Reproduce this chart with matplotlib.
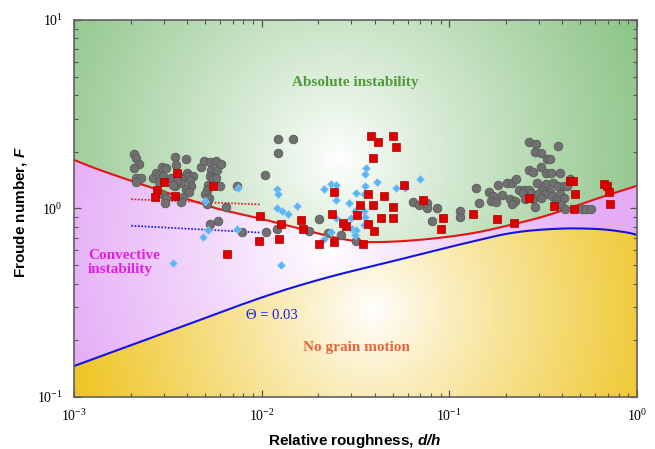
import numpy as np
import matplotlib
matplotlib.use("Agg")
from matplotlib import pyplot as plt

plt.rcParams['font.family'] = 'Liberation Serif'
plt.rcParams['mathtext.fontset'] = 'custom'
plt.rcParams['mathtext.rm'] = 'Liberation Serif'
plt.rcParams['mathtext.bfit'] = 'Liberation Sans:italic:bold'

# Axis limits
x_lim = (1e-3, 1.0)
y_lim = (0.1, 10.0)

# Measured data: gray circles
gray_dh = [0.00209, 0.00213, 0.00221, 0.00209, 0.00215, 0.00228, 0.00213, 0.00273, 0.00264, 0.00293,
           0.00311, 0.00284, 0.00299, 0.00282, 0.00345, 0.00348, 0.00393, 0.00328, 0.00358, 0.00378,
           0.0040, 0.0041, 0.0043, 0.0037, 0.00344, 0.00354, 0.00414, 0.00422, 0.00393, 0.0041,
           0.00381, 0.0037, 0.00296, 0.00309, 0.00305, 0.00337, 0.00477, 0.0049, 0.00528, 0.00539,
           0.00568, 0.00577, 0.00528, 0.0055, 0.00517, 0.0051, 0.00498, 0.00523, 0.0051, 0.00573,
           0.00533, 0.00584, 0.00605, 0.0060, 0.00647, 0.0074, 0.0104, 0.01225, 0.0147, 0.01225,
           0.00787, 0.01054, 0.0121, 0.0179, 0.0201, 0.0226, 0.0264, 0.0317, 0.0644, 0.0687,
           0.0758, 0.0759, 0.086, 0.081, 0.114, 0.114, 0.144, 0.138, 0.1625, 0.171,
           0.1675, 0.177, 0.191, 0.182, 0.202, 0.216, 0.227, 0.236, 0.250, 0.266,
           0.211, 0.223, 0.215, 0.247, 0.253, 0.274, 0.279, 0.287, 0.265, 0.289,
           0.380, 0.286, 0.307, 0.333, 0.345, 0.267, 0.279, 0.307, 0.327, 0.350,
           0.389, 0.442, 0.293, 0.327, 0.357, 0.380, 0.406, 0.426, 0.310, 0.343,
           0.297, 0.322, 0.354, 0.387, 0.309, 0.369, 0.406, 0.365, 0.396, 0.412,
           0.510, 0.538, 0.570]
gray_F = [1.94, 1.85, 1.72, 1.63, 1.46, 1.46, 1.38, 1.55, 1.45, 1.66,
          1.63, 1.51, 1.48, 1.39, 1.88, 1.70, 1.83, 1.46, 1.51, 1.45,
          1.54, 1.48, 1.48, 1.36, 1.31, 1.40, 1.42, 1.31, 1.27, 1.23,
          1.155, 1.08, 1.20, 1.14, 1.065, 1.33, 1.65, 1.79, 1.76, 1.60,
          1.79, 1.60, 1.48, 1.45, 1.33, 1.25, 1.20, 1.14, 1.06, 1.45,
          0.827, 0.86, 1.72, 1.31, 1.02, 1.32, 1.51, 2.35, 2.35, 1.96,
          0.755, 0.755, 0.778, 0.761, 0.884, 0.741, 0.725, 0.671, 1.087, 1.044,
          1.065, 1.01, 1.0, 0.86, 0.966, 0.904, 1.065, 1.28, 1.23, 1.165,
          1.09, 1.08, 1.18, 1.34, 1.36, 1.36, 1.43, 1.26, 1.26, 1.26,
          1.12, 1.10, 1.05, 1.21, 1.12, 1.21, 1.12, 1.015, 2.24, 2.20,
          2.14, 2.0, 1.97, 1.84, 1.82, 1.60, 1.56, 1.65, 1.54, 1.54,
          1.55, 1.43, 1.36, 1.345, 1.36, 1.31, 1.32, 1.31, 1.26, 1.23,
          1.19, 1.19, 1.17, 1.20, 1.135, 1.11, 1.14, 1.06, 1.04, 0.99,
          0.99, 0.99, 0.99]

# Measured data: blue diamonds
blue_dh = [0.00337, 0.00498, 0.00516, 0.00486, 0.00746, 0.00735, 0.0120, 0.01225, 0.0120, 0.01277,
           0.01375, 0.0155, 0.0215, 0.0235, 0.0215, 0.0233, 0.0126, 0.0361, 0.0354, 0.0412,
           0.070, 0.025, 0.0355, 0.0517, 0.0577, 0.0318, 0.0353, 0.0249, 0.0293, 0.0316,
           0.0351, 0.0357, 0.0299, 0.025, 0.035, 0.0303, 0.032, 0.0313]
blue_F = [0.513, 1.096, 0.773, 0.705, 1.29, 0.778, 1.265, 1.19, 1.006, 0.964,
          0.94, 1.03, 1.265, 1.345, 0.692, 0.755, 0.50, 1.64, 1.52, 1.39,
          1.435, 1.33, 1.31, 1.28, 1.28, 1.21, 1.19, 1.11, 1.065, 0.964,
          0.97, 0.90, 0.895, 0.885, 0.813, 0.778, 0.77, 0.725]

# Measured data: red squares
red_dh = [0.00353, 0.00301, 0.00278, 0.0027, 0.00347, 0.00548, 0.0098, 0.0127, 0.01625, 0.0166,
          0.00962, 0.01236, 0.0201, 0.0237, 0.0242, 0.00652, 0.0242, 0.0384, 0.0416, 0.0502,
          0.0521, 0.0392, 0.0574, 0.0369, 0.0446, 0.0334, 0.0392, 0.0502, 0.072, 0.0324,
          0.043, 0.0502, 0.093, 0.0271, 0.028, 0.0369, 0.0397, 0.090, 0.0347, 0.133,
          0.179, 0.222, 0.266, 0.363, 0.440, 0.454, 0.469, 0.461, 0.664, 0.694,
          0.707, 0.718]
red_F = [1.54, 1.39, 1.25, 1.155, 1.17, 1.32, 0.91, 0.827, 0.87, 0.778,
         0.674, 0.692, 0.65, 0.933, 1.22, 0.574, 0.668, 2.41, 2.24, 2.41,
         2.11, 1.86, 1.34, 1.19, 1.17, 1.045, 1.044, 1.015, 1.11, 0.92,
         0.885, 0.885, 0.89, 0.84, 0.81, 0.823, 0.761, 0.781, 0.65, 0.933,
         0.877, 0.835, 1.14, 1.03, 1.395, 1.395, 1.19, 0.995, 1.345, 1.32,
         1.22, 1.06]

# Boundary between absolute and convective instability
abs_dh = [0.001, 0.001375, 0.00253, 0.00467, 0.006, 0.0098, 0.01277, 0.016, 0.0245, 0.0345,
          0.048, 0.0694, 0.101, 0.1455, 0.214, 0.303, 0.412, 0.631, 1.0]
abs_F = [1.81, 1.60, 1.30, 1.07, 0.99, 0.884, 0.827, 0.781, 0.702, 0.666,
         0.666, 0.682, 0.71, 0.752, 0.82, 0.895, 0.985, 1.14, 1.32]

# Threshold of grain motion, Theta = 0.03
theta_dh = [0.001, 0.00337, 0.0099, 0.0217, 0.049, 0.1115, 0.214, 0.380, 0.618, 0.856, 1.0]
theta_F = [0.146, 0.227, 0.336, 0.427, 0.523, 0.641, 0.741, 0.781, 0.778, 0.75, 0.725]

# Dotted fits
red_fit_dh = [0.00202, 0.0099]
red_fit_F = [1.12, 1.05]
blue_fit_dh = [0.00202, 0.0099]
blue_fit_F = [0.81, 0.745]


def smooth_log(xs, ys, n=24):
    # Catmull-Rom through the read points, in log-log space
    lx = np.log10(xs)
    ly = np.log10(ys)
    px = np.concatenate([[2 * lx[0] - lx[1]], lx, [2 * lx[-1] - lx[-2]]])
    py = np.concatenate([[2 * ly[0] - ly[1]], ly, [2 * ly[-1] - ly[-2]]])
    out_x, out_y = [], []
    t = np.linspace(0, 1, n, endpoint=False)
    for i in range(1, len(px) - 2):
        for p, out in ((px, out_x), (py, out_y)):
            p0, p1, p2, p3 = p[i - 1], p[i], p[i + 1], p[i + 2]
            out.extend(0.5 * (2 * p1 + (-p0 + p2) * t + (2 * p0 - 5 * p1 + 4 * p2 - p3) * t ** 2
                              + (-p0 + 3 * p1 - 3 * p2 + p3) * t ** 3))
    out_x.append(lx[-1])
    out_y.append(ly[-1])
    return np.array(out_x), np.array(out_y)


abs_lx, abs_ly = smooth_log(abs_dh, abs_F)
theta_lx, theta_ly = smooth_log(theta_dh, theta_F)

fig = plt.figure(figsize=(6.55, 4.49), dpi=100)
ax = fig.add_axes([0.113, 0.1158, 0.8595, 0.8397])

# Background regions with radial white glow
nu, nv = 700, 470
U, V = np.meshgrid(np.linspace(0, 1, nu), np.linspace(0, 1, nv))
gx = np.log10(x_lim[0]) + U * (np.log10(x_lim[1]) - np.log10(x_lim[0]))
gy = np.log10(y_lim[0]) + V * (np.log10(y_lim[1]) - np.log10(y_lim[0]))
abs_line = np.interp(gx, abs_lx, abs_ly)
theta_line = np.interp(gx, theta_lx, theta_ly)
green = gy >= abs_line
yellow = gy < theta_line
pink = ~green & ~yellow

w_px, h_px = 563, 377


def glow(cu, cv, radius, color):
    d = np.hypot((U - cu) * w_px, (V - cv) * h_px) / radius
    t = np.clip(d, 0, 1)[..., None] ** 0.9
    c = np.array(color) / 255.0
    return (1 - t) * 1.0 + t * c


img = np.ones((nv, nu, 3))
img[green] = glow(0.47, 0.63, 330, (140, 196, 134))[green]
img[pink] = glow(0.45, 0.39, 285, (228, 172, 246))[pink]
img[yellow] = glow(0.53, 0.23, 300, (239, 198, 40))[yellow]
ax.imshow(img, extent=[0, 1, 0, 1], transform=ax.transAxes, origin='lower',
          aspect='auto', zorder=0, interpolation='bilinear')

ax.set_xscale('log')
ax.set_yscale('log')

ax.plot(10 ** abs_lx, 10 ** abs_ly, color='#e41414', lw=1.5, zorder=2)
ax.plot(10 ** theta_lx, 10 ** theta_ly, color='#1414e0', lw=1.5, zorder=2)
ax.plot(red_fit_dh, red_fit_F, color='#e41414', lw=1.2, ls=(0, (1, 1)), zorder=2)
ax.plot(blue_fit_dh, blue_fit_F, color='#1414e0', lw=1.2, ls=(0, (1, 1)), zorder=2)

ax.plot(gray_dh, gray_F, 'o', ms=6.2, mfc='#707070', mec='#5a5a5a', mew=0.6, zorder=3)
ax.plot(blue_dh, blue_F, 'D', ms=4, mfc='#5cb4f6', mec='#8ccaf8', mew=0.5, zorder=4)
ax.plot(red_dh, red_F, 's', ms=5.2, mfc='#dc0000', mec='#b00000', mew=0.5, zorder=5)

ax.set_xlim(*x_lim)
ax.set_ylim(*y_lim)

ax.text(0.499, 0.833, 'Absolute instability', transform=ax.transAxes, ha='center', va='center',
        fontsize=11, fontweight='bold', color='#4f9a3a')
ax.text(0.025, 0.357, 'Convective\ninstability', transform=ax.transAxes, ha='left', va='center',
        fontsize=11, fontweight='bold', color='#e01ee6', linespacing=1.05)
ax.text(0.352, 0.215, '\u0398 = 0.03', transform=ax.transAxes, ha='center', va='center',
        fontsize=10.5, color='#1a1ae6')
ax.text(0.501, 0.130, 'No grain motion', transform=ax.transAxes, ha='center', va='center',
        fontsize=11, fontweight='bold', color='#e8643c')

ax.tick_params(which='both', direction='in', top=True, right=True, color='#555555',
               labelsize=10, pad=8)
ax.tick_params(which='major', length=5, width=0.9)
ax.tick_params(which='minor', length=2.8, width=0.8)
for s in ax.spines.values():
    s.set_color('#606060')
    s.set_linewidth(1.2)

fig.text(0.032, 0.528, 'Froude number, $\\mathbfit{F}$', rotation=90, ha='center', va='center',
         family='Liberation Sans', fontweight='bold', fontsize=11)
fig.text(0.542, 0.018, 'Relative roughness, $\\mathbfit{d/h}$', ha='center', va='center',
         family='Liberation Sans', fontweight='bold', fontsize=11)

fig.savefig('out.png', dpi=100)
